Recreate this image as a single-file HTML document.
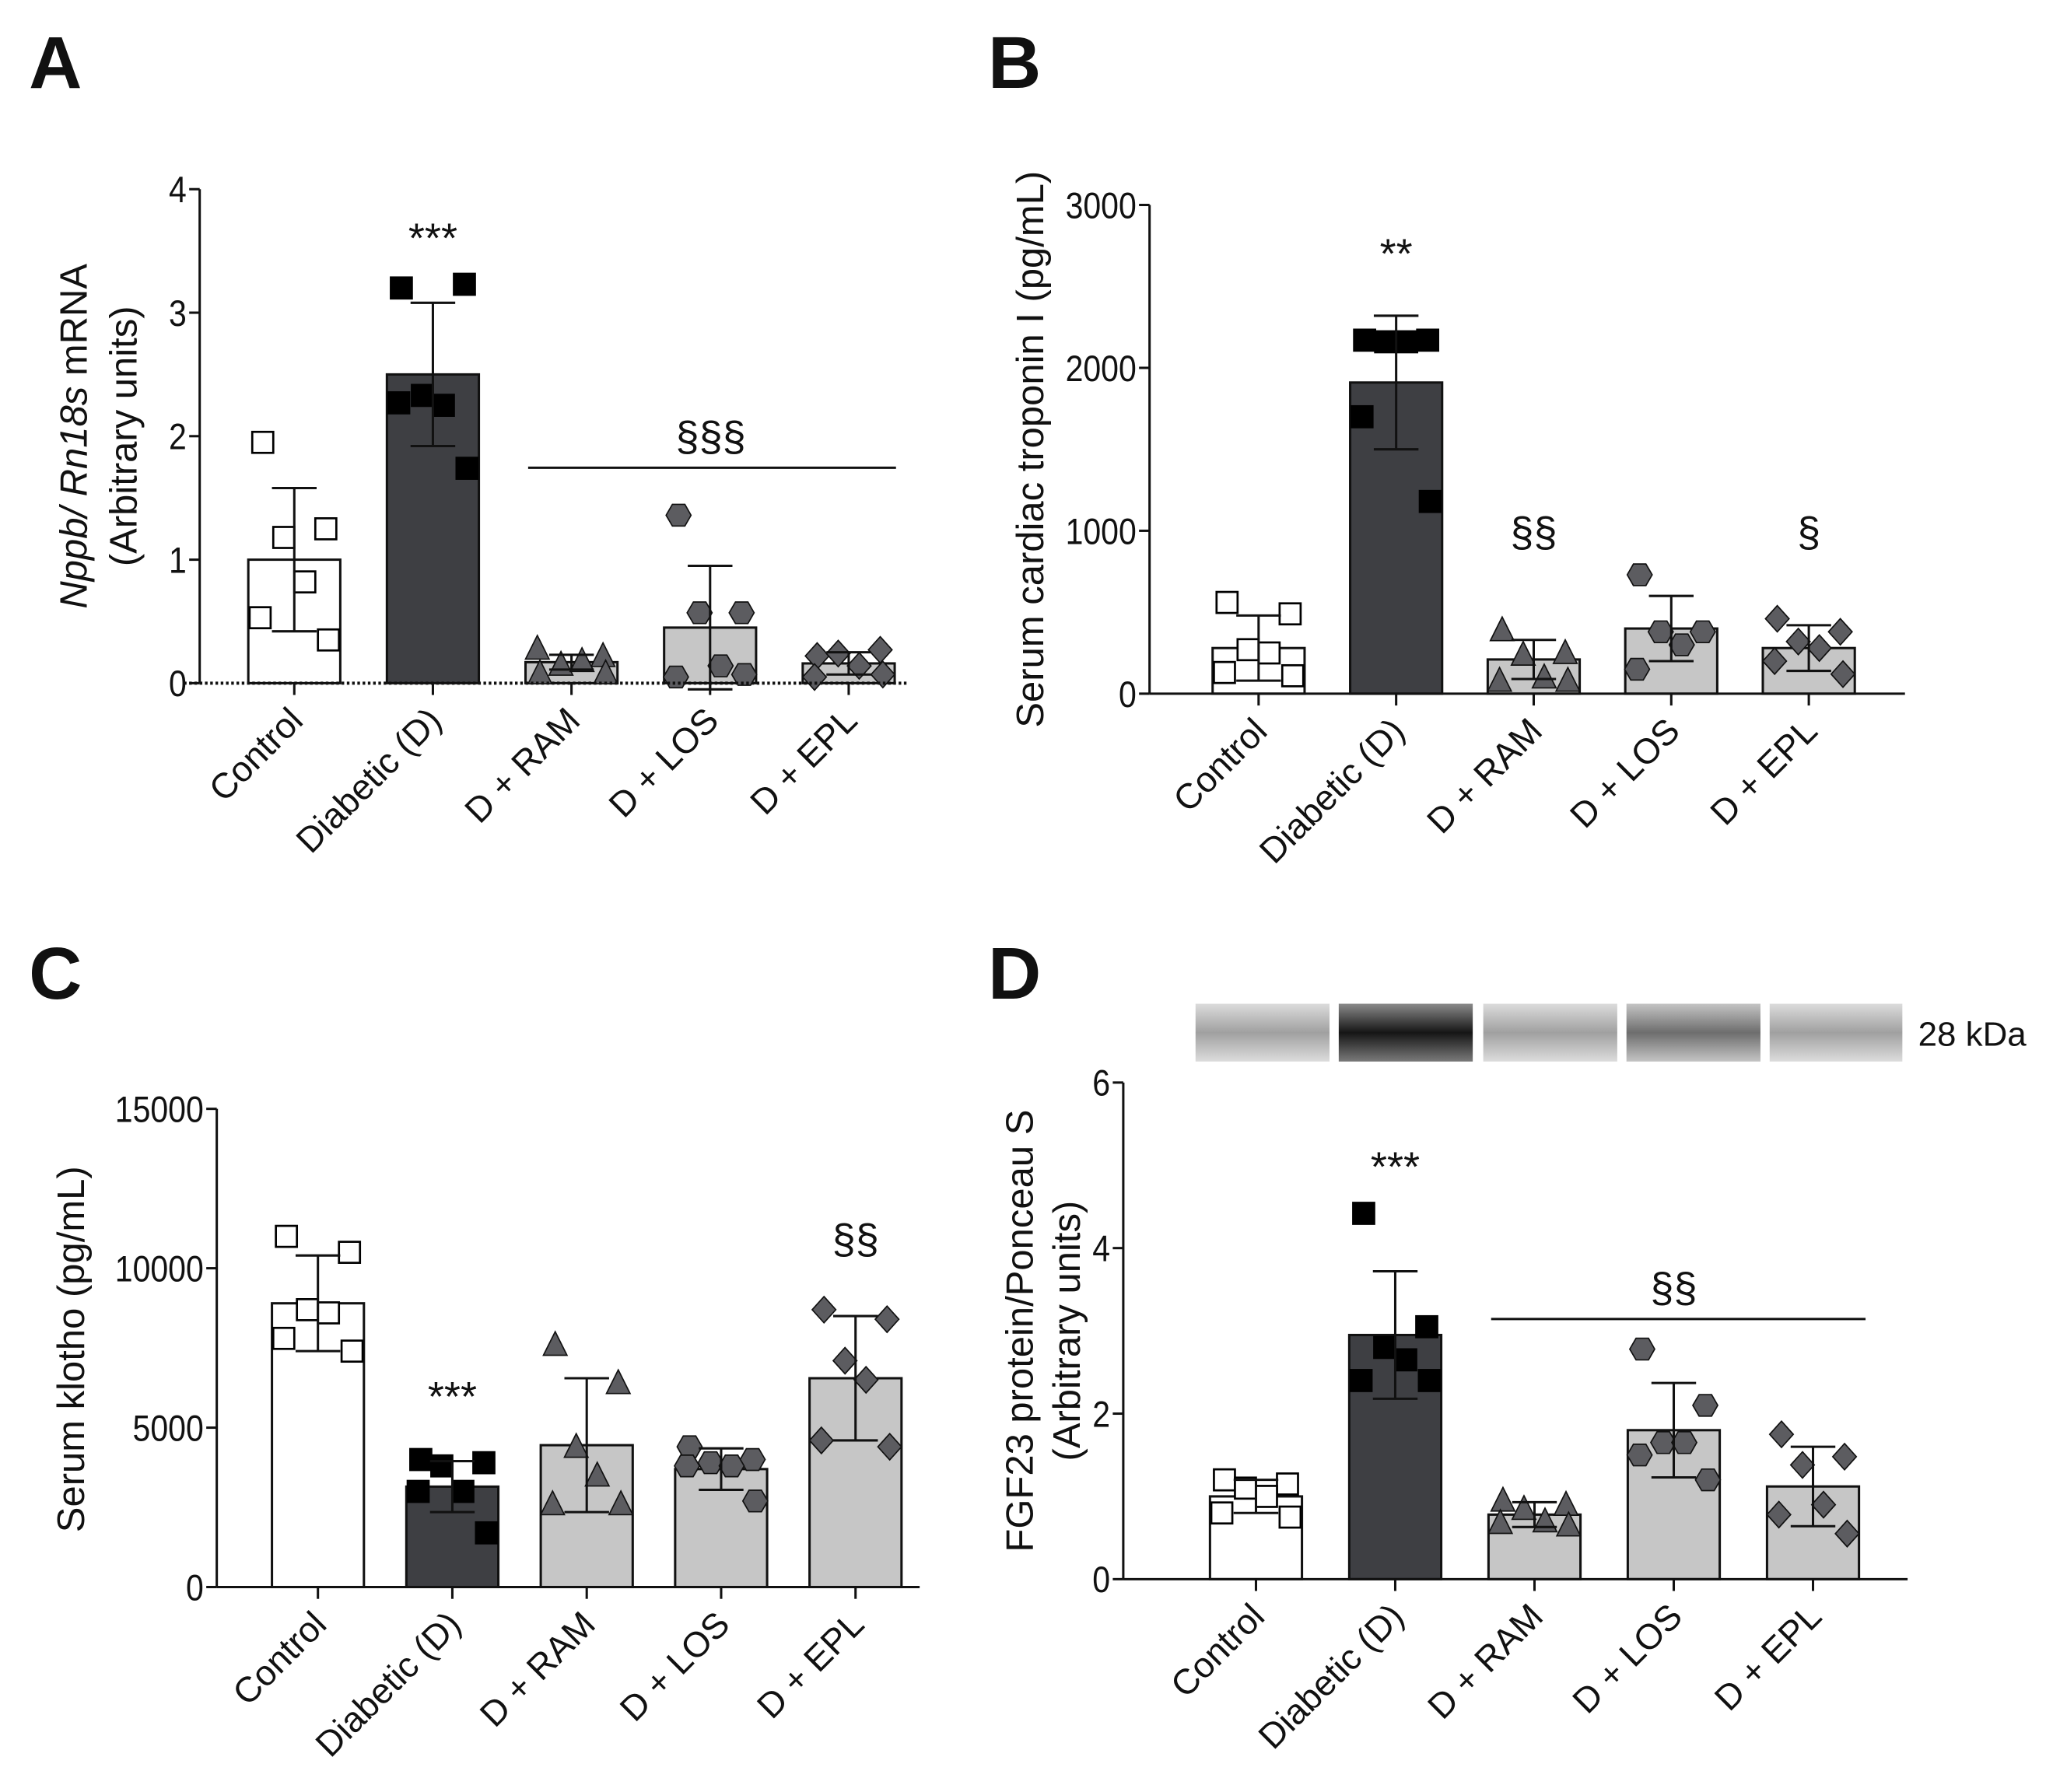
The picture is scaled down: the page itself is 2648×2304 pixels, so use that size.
<!DOCTYPE html>
<html><head><meta charset="utf-8"><style>
html,body{margin:0;padding:0;background:#fff}
svg{display:block}
text{font-family:"Liberation Sans",Arial,sans-serif;fill:#111}
</style></head><body>
<svg id="fig" width="2648" height="2304" viewBox="0 0 1568 1364" preserveAspectRatio="none" xmlns="http://www.w3.org/2000/svg">
<defs>
<linearGradient id="bl" x1="0" y1="0" x2="0" y2="1"><stop offset="0" stop-color="#dcdcdc"/><stop offset="0.5" stop-color="#a0a0a0"/><stop offset="1" stop-color="#dcdcdc"/></linearGradient>
<linearGradient id="bd" x1="0" y1="0" x2="0" y2="1"><stop offset="0" stop-color="#8a8a8a"/><stop offset="0.5" stop-color="#151515"/><stop offset="1" stop-color="#7a7a7a"/></linearGradient>
<linearGradient id="bm" x1="0" y1="0" x2="0" y2="1"><stop offset="0" stop-color="#c4c4c4"/><stop offset="0.5" stop-color="#6d6d6d"/><stop offset="1" stop-color="#c4c4c4"/></linearGradient>
</defs>
<text x="22" y="67" font-size="56" font-weight="bold">A</text>
<text x="752" y="67" font-size="56" font-weight="bold">B</text>
<text x="22" y="760" font-size="56" font-weight="bold">C</text>
<text x="752" y="760" font-size="56" font-weight="bold">D</text>
<g>
<rect x="910" y="764" width="102" height="44" fill="url(#bl)"/>
<rect x="1019" y="764" width="102" height="44" fill="url(#bd)"/>
<rect x="1129" y="764" width="102" height="44" fill="url(#bl)"/>
<rect x="1238" y="764" width="102" height="44" fill="url(#bm)"/>
<rect x="1347" y="764" width="101" height="44" fill="url(#bl)"/>
<text x="1460" y="796" font-size="26">28 kDa</text>
</g>
</svg>
<script>
const categories=["Control","Diabetic (D)","D + RAM","D + LOS","D + EPL"];
// Panel A
const aMeans=[1.0,2.5,0.17,0.45,0.16];
const aSD=[0.58,0.58,0.06,0.5,0.09];
const aPts=[[1.95,1.25,1.18,0.82,0.53,0.35],[3.2,3.23,2.33,2.25,2.27,1.74],[0.08,0.22,0.15,0.18,0.28,0.08],[1.36,0.57,0.57,0.14,0.05,0.07],[0.22,0.27,0.24,0.14,0.05,0.07]];
const aTicks=[0,1,2,3,4];
// Panel B
const bMeans=[280,1910,210,400,280];
const bSD=[200,410,120,200,140];
const bPts=[[560,490,270,250,130,110],[2170,2170,2160,2160,1700,1180],[390,250,240,100,80,80],[730,380,380,300,150],[460,380,320,280,200,120]];
const bTicks=[0,1000,2000,3000];
// Panel C
const cMeans=[8900,3150,4450,3700,6550];
const cSD=[1500,800,2100,650,1950];
const cPts=[[11000,10500,8700,8600,7800,7400],[4000,3900,3800,3000,3000,1700],[7600,6400,4400,3500,2600,2600],[4400,4000,3900,3800,3800,2700],[8700,8400,7100,6500,4600,4400]];
const cTicks=[0,5000,10000,15000];
// Panel D
const dMeans=[1.0,2.95,0.78,1.8,1.12];
const dSD=[0.2,0.77,0.15,0.57,0.48];
const dPts=[[1.2,1.15,1.1,1.0,0.8,0.75],[4.42,3.05,2.8,2.65,2.4,2.4],[0.95,0.9,0.85,0.7,0.68,0.65],[2.78,2.1,1.65,1.65,1.5,1.2],[1.75,1.48,1.38,0.9,0.78,0.55]];
const dTicks=[0,2,4,6];

const NS="http://www.w3.org/2000/svg";
const svg=document.getElementById('fig');
function mk(tag,attrs,parent){const e=document.createElementNS(NS,tag);for(const k in attrs)e.setAttribute(k,attrs[k]);(parent||svg).appendChild(e);return e;}
const fills=["#ffffff","#3e3f43","#c6c6c6","#c6c6c6","#c6c6c6"];
const jit=[-24,24,-8,8,-26,26];

function marker(g,kind,cx,cy){
  let e;
  if(kind===0||kind===1){e=mk('rect',{x:cx-8,y:cy-8,width:16,height:16,fill:kind===0?'#fff':'#000',stroke:'#000','stroke-width':1.6},g);}
  else if(kind===2){e=mk('polygon',{points:`${cx},${cy-10} ${cx+9},${cy+8} ${cx-9},${cy+8}`,fill:'#5c5c60',stroke:'#111','stroke-width':1},g);}
  else if(kind===3){let p=[];for(let i=0;i<6;i++){const a=Math.PI/3*i;p.push((cx+9.5*Math.cos(a)).toFixed(1)+','+(cy+9.5*Math.sin(a)).toFixed(1));}e=mk('polygon',{points:p.join(' '),fill:'#5c5c60',stroke:'#111','stroke-width':1},g);}
  else {e=mk('polygon',{points:`${cx},${cy-10} ${cx+9},${cy} ${cx},${cy+10} ${cx-9},${cy}`,fill:'#5c5c60',stroke:'#111','stroke-width':1},g);}
  
  
}

function panel(id,o,means,sds,pts,ticks){
  const g=mk('g',{});
  
  
  const ymax=ticks[ticks.length-1];
  const Y=v=>o.y0-(v/ymax)*(o.y0-o.ytop);
  const X=i=>o.xs[0]+i*o.dx;
  means.forEach((m,i)=>{
    const r=mk('rect',{x:X(i)-35,y:Y(m),width:70,height:o.y0-Y(m),fill:fills[i],stroke:'#111','stroke-width':1.8},g);
    
    
  });
  pts.forEach((arr,i)=>arr.forEach((v,j)=>marker(g,i,X(i)+jit[j%6],Y(v))));
  means.forEach((m,i)=>{
    const e=mk('path',{d:`M${X(i)},${Y(m-sds[i])}V${Y(m+sds[i])}M${X(i)-17},${Y(m+sds[i])}h34M${X(i)-17},${Y(m-sds[i])}h34`,stroke:'#111','stroke-width':1.8,fill:'none'},g);
    
    
  });
  const ya=mk('line',{x1:o.ax,y1:o.ytop,x2:o.ax,y2:o.y0,stroke:'#111','stroke-width':1.8},g);
  
  
  const xa=mk('line',{x1:o.ax-(o.dotted?12:0),y1:o.y0,x2:o.xend,y2:o.y0,stroke:'#111','stroke-width':o.dotted?2.4:1.8,'stroke-dasharray':o.dotted?'2 2':'none'},g);
  
  
  ticks.forEach(t=>{
    mk('line',{x1:o.ax-8,y1:Y(t),x2:o.ax,y2:Y(t),stroke:'#111','stroke-width':1.8},g);
    const tx=mk('text',{x:o.ax-10,y:Y(t)+10,'font-size':28,'text-anchor':'end',textLength:String(t).length*13.5,lengthAdjust:'spacingAndGlyphs'},g);
    tx.textContent=t;
    
    
  });
  categories.forEach((c,i)=>{
    mk('line',{x1:X(i),y1:o.y0,x2:X(i),y2:o.y0+9,stroke:'#111','stroke-width':1.8},g);
    const t=mk('text',{x:X(i)+8,y:o.y0+30,'font-size':27,'text-anchor':'end',transform:`rotate(-45 ${X(i)+8} ${o.y0+30})`},g);
    t.textContent=c;
    
    
  });
  return {g,X,Y};
}
function txt(g,x,y,s,size,name,extra){const t=mk('text',Object.assign({x:x,y:y,'font-size':size,'text-anchor':'middle'},extra||{}),g);t.textContent=s;return t;}

// A
let A=panel('panel-a',{ax:152,ytop:144,y0:520,xs:[224],dx:105.5,xend:690,dotted:true},aMeans,aSD,aPts,aTicks);
txt(A.g,A.X(1),192,'***',32,'significance-a-diabetic');
let la=mk('line',{x1:402,y1:356,x2:682,y2:356,stroke:'#111','stroke-width':1.8},A.g);


txt(A.g,541,343,'§§§',32,'significance-a-treatments');
let ta=mk('text',{x:0,y:0,'font-size':29,'text-anchor':'middle',transform:'translate(66 332) rotate(-90)'},A.g);
ta.innerHTML='<tspan font-style="italic">Nppb/ Rn18s</tspan> mRNA';


txt(A.g,0,0,'(Arbitrary units)',29,'y-axis-subtitle-a',{transform:'translate(104 332) rotate(-90)'});

// B
let B=panel('panel-b',{ax:875,ytop:156,y0:528,xs:[958],dx:104.7,xend:1450},bMeans,bSD,bPts,bTicks);
txt(B.g,B.X(1),204,'**',32,'significance-b-diabetic');
txt(B.g,B.X(2),416,'§§',32,'significance-b-ram');
txt(B.g,B.X(4),416,'§',32,'significance-b-epl');
txt(B.g,0,0,'Serum cardiac troponin I (pg/mL)',29,'y-axis-title-b',{transform:'translate(794 342) rotate(-90)'});

// C
let C=panel('panel-c',{ax:165,ytop:844,y0:1208,xs:[242],dx:102.3,xend:700},cMeans,cSD,cPts,cTicks);
txt(C.g,C.X(1),1074,'***',32,'significance-c-diabetic');
txt(C.g,C.X(4),954,'§§',32,'significance-c-epl');
txt(C.g,0,0,'Serum klotho (pg/mL)',29,'y-axis-title-c',{transform:'translate(64 1027) rotate(-90)'});

// D
let D=panel('panel-d',{ax:855,ytop:824,y0:1202,xs:[956],dx:106,xend:1452},dMeans,dSD,dPts,dTicks);
txt(D.g,D.X(1),899,'***',32,'significance-d-diabetic');
let ld=mk('line',{x1:1135,y1:1004,x2:1420,y2:1004,stroke:'#111','stroke-width':1.8},D.g);


txt(D.g,1274,991,'§§',32,'significance-d-treatments');
txt(D.g,0,0,'FGF23 protein/Ponceau S',29,'y-axis-title-d',{transform:'translate(786 1013) rotate(-90)'});
txt(D.g,0,0,'(Arbitrary units)',29,'y-axis-subtitle-d',{transform:'translate(822 1013) rotate(-90)'});
</script>
</body></html>
